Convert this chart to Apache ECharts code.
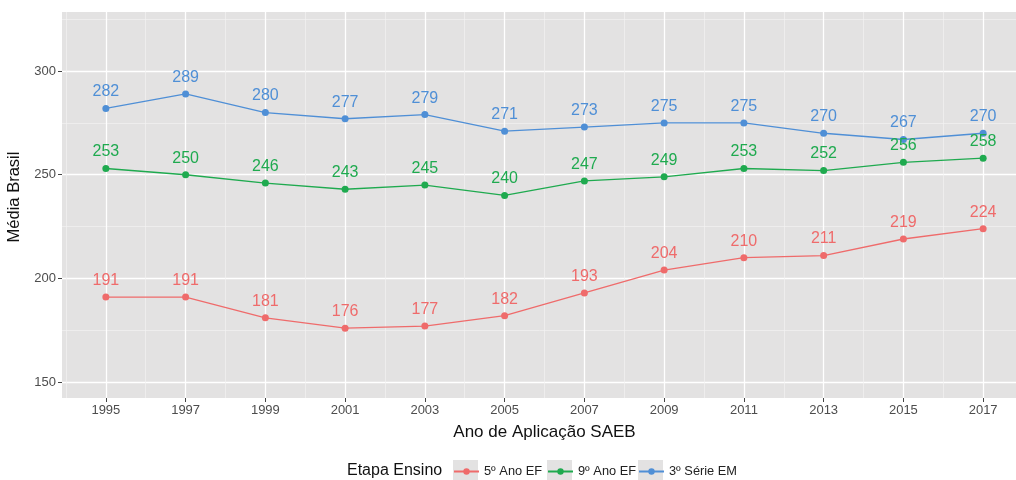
<!DOCTYPE html>
<html>
<head>
<meta charset="utf-8">
<script src="https://cdn.jsdelivr.net/npm/echarts@6/dist/echarts.min.js"></script>
<style>
  html, body { margin: 0; padding: 0; background: #fff; }
  #chart { width: 1016px; height: 480px; }
</style>
</head>
<body>
<div id="chart"></div>
<script>
// dados
const anos = [1995, 1997, 1999, 2001, 2003, 2005, 2007, 2009, 2011, 2013, 2015, 2017];
const ano5EF = [191, 191, 181, 176, 177, 182, 193, 204, 210, 211, 219, 224];
const ano9EF = [253, 250, 246, 243, 245, 240, 247, 249, 253, 252, 256, 258];
const serie3EM = [282, 289, 280, 277, 279, 271, 273, 275, 275, 270, 267, 270];
const nomes = ["5º Ano EF", "9º Ano EF", "3º Série EM"];
const cores = ["#ef6b6b", "#1faa4f", "#4f8fd6"];
const yMajor = [150, 200, 250, 300];
const yMinor = [175, 225, 275, 325];
const xMinor = [1994, 1996, 1998, 2000, 2002, 2004, 2006, 2008, 2010, 2012, 2014, 2016, 2018];

(function () {
    let chart = echarts.init(document.getElementById("chart"));

    const font = "Liberation Sans";
    const valores = [ano5EF, ano9EF, serie3EM];

    function serie(i) {
        return {
            name: nomes[i],
            type: "line",
            data: anos.map((a, k) => [a, valores[i][k]]),
            symbol: "circle",
            symbolSize: 7,
            color: cores[i],
            lineStyle: { width: 1.3 },
            label: {
                show: true,
                position: "top",
                distance: 5,
                fontSize: 16,
                fontFamily: font,
                color: cores[i],
                formatter: p => p.value[1]
            },
            emphasis: { disabled: true },
            z: 3
        };
    }

    // legenda: uma por série, com caixa cinza atrás
    const legendaX = [453, 547, 638];
    function legenda(i) {
        return {
            data: [nomes[i]],
            left: legendaX[i],
            top: 465,
            padding: 0,
            itemWidth: 25,
            itemHeight: 8,
            itemGap: 0,
            textStyle: { fontSize: 12.8, color: "#222", fontFamily: font },
            z: 5
        };
    }
    function caixa(x) {
        return { type: "rect", left: x, top: 460, shape: { width: 25, height: 20 }, style: { fill: "#e3e2e2" }, z: 0 };
    }

    let option = {
        animation: false,
        textStyle: { fontFamily: font },
        grid: {
            left: 62, top: 12, width: 965, height: 386,
            outerBoundsMode: "none",
            containLabel: false,
            show: true, backgroundColor: "#e3e2e2", borderWidth: 0
        },
        xAxis: [
            {
                type: "value", min: 1993.9, max: 2018.1,
                axisLine: { show: false },
                axisTick: { show: true, customValues: anos, length: 4, lineStyle: { color: "#444" } },
                axisLabel: { customValues: anos, color: "#4d4d4d", fontSize: 13, margin: 6, formatter: v => String(v) },
                splitLine: { show: true, lineStyle: { color: "#fff", width: 1.3 } },
                name: "Ano de Aplicação SAEB",
                nameLocation: "middle",
                nameGap: 26,
                nameTextStyle: { fontSize: 17, color: "#111" }
            },
            {
                type: "value", min: 1993.9, max: 2018.1, position: "bottom",
                axisLine: { show: false },
                axisTick: { show: false, customValues: xMinor },
                axisLabel: { show: false },
                splitLine: { show: true, lineStyle: { color: "#f2f2f2", width: 0.7 } }
            }
        ],
        yAxis: [
            {
                type: "value", min: 142.3, max: 328.5,
                axisLine: { show: false },
                axisTick: { show: true, customValues: yMajor, length: 4, lineStyle: { color: "#444" } },
                axisLabel: { customValues: yMajor, color: "#4d4d4d", fontSize: 13, margin: 6 },
                splitLine: { show: true, lineStyle: { color: "#fff", width: 1.3 } },
                name: "Média Brasil",
                nameLocation: "middle",
                nameGap: 38,
                nameRotate: 90,
                nameTextStyle: { fontSize: 16.5, color: "#111", padding: [0, 0, 0, 16] }
            },
            {
                type: "value", min: 142.3, max: 328.5,
                axisLine: { show: false },
                axisTick: { show: false, customValues: yMinor },
                axisLabel: { show: false },
                splitLine: { show: true, lineStyle: { color: "#f2f2f2", width: 0.7 } }
            }
        ],
        legend: [legenda(0), legenda(1), legenda(2)],
        graphic: [
            {
                type: "text", left: 347, top: 463,
                style: { text: "Etapa Ensino", fontSize: 16, fill: "#111", fontFamily: font }
            },
            caixa(legendaX[0]), caixa(legendaX[1]), caixa(legendaX[2])
        ],
        series: [serie(0), serie(1), serie(2)]
    };

    chart.setOption(option);
    window.addEventListener("resize", () => chart.resize());
})();
</script>
</body>
</html>
